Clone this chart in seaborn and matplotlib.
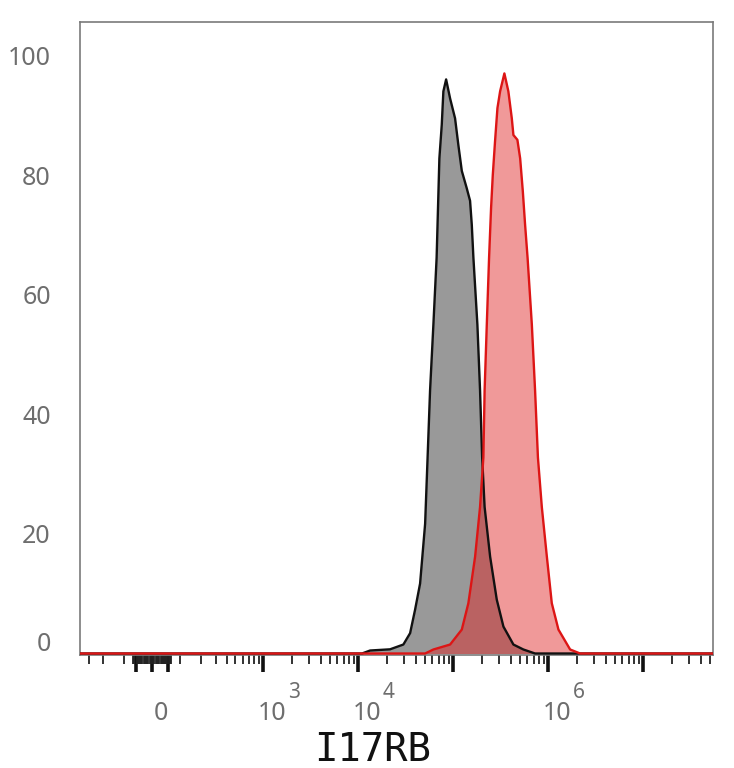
import numpy as np
import pandas as pd
import seaborn as sns
import matplotlib
matplotlib.use("Agg")
import matplotlib.pyplot as plt
from matplotlib.transforms import ScaledTranslation

# histogram outlines: log10 intensity vs % of max
isotype_log = [4.039, 4.124, 4.334, 4.474, 4.545, 4.597, 4.650, 4.703, 4.729, 4.755,
               4.790, 4.824, 4.853, 4.878, 4.895, 4.924, 4.966, 5.018, 5.053, 5.089,
               5.141, 5.176, 5.194, 5.211, 5.253, 5.281, 5.303, 5.329, 5.387, 5.457,
               5.527, 5.632, 5.737, 5.860]
isotype_pct = [0.0, 0.5, 0.7, 1.5, 3.4, 7.3, 11.7, 21.7, 32.8, 44.0,
               55.0, 66.2, 82.8, 88.4, 94.0, 96.0, 92.8, 89.5, 85.0, 80.7,
               77.8, 75.7, 71.7, 66.2, 55.0, 44.0, 32.8, 24.5, 16.2, 9.0,
               4.5, 1.5, 0.67, 0.0]

i17rb_log = [4.703, 4.790, 4.966, 5.089, 5.158, 5.229, 5.281, 5.316, 5.329, 5.352,
             5.376, 5.397, 5.415, 5.439, 5.464, 5.492, 5.537, 5.579, 5.615, 5.632,
             5.674, 5.703, 5.731, 5.755, 5.781, 5.826, 5.860, 5.890, 5.931, 5.984,
             6.036, 6.106, 6.229, 6.334]
i17rb_pct = [0.0, 0.67, 1.5, 4.0, 8.4, 16.2, 24.5, 32.8, 44.0, 55.0,
             66.2, 74.5, 80.0, 85.7, 91.2, 94.0, 97.0, 94.0, 89.5, 86.7,
             85.9, 82.8, 77.3, 71.7, 66.2, 55.0, 44.0, 32.8, 24.5, 16.2,
             8.4, 4.0, 0.67, 0.0]

# display range of the channel
chan_lo, chan_hi = -375, 5.4e7
y_ticks = [0, 20, 40, 60, 80, 100]
x_major = [-55, 0, 55, 1e3, 1e4, 1e5, 1e6, 1e7]
x_major_labels = ["", "0", "", "10", "10", "", "10", ""]
x_exponents = [3, 4, 6]

W = 135.0  # linear width of the biex scale


def fwd(x):
    return np.arcsinh(np.asarray(x, dtype=float) / W)


def inv(y):
    return W * np.sinh(y)


def curve(logs, pct, name):
    x = np.r_[chan_lo, 10 ** np.array(logs), chan_hi]
    y = np.r_[0.0, pct, 0.0]
    return pd.DataFrame({"intensity": x, "pct": y, "sample": name})


df = pd.concat([curve(isotype_log, isotype_pct, "Isotype"),
                curve(i17rb_log, i17rb_pct, "I17RB")], ignore_index=True)

sns.set_theme(style="white")
plt.rcParams["font.family"] = ["Noto Sans", "DejaVu Sans"]

fig = plt.figure(figsize=(7.34, 7.68), dpi=100)
ax = fig.add_axes([80 / 734, 113 / 768, 633 / 734, 633 / 768])
ax.set_xscale("function", functions=(fwd, inv))

iso = df[df["sample"] == "Isotype"]
red = df[df["sample"] == "I17RB"]
ax.fill_between(iso["intensity"], iso["pct"], color="#999999", lw=0, zorder=1)
ax.fill_between(red["intensity"], red["pct"], color="#e02626", alpha=0.47, lw=0, zorder=2)
sns.lineplot(data=df, x="intensity", y="pct", hue="sample", sort=False, estimator=None,
             palette={"Isotype": "#111111", "I17RB": "#dd1515"}, lw=1.7,
             legend=False, ax=ax, zorder=3)

ax.set_xlim(chan_lo, chan_hi)
ax.set_ylim(-0.25, 105.6)

# y axis
ax.set_yticks(y_ticks)
ax.set_yticklabels([str(v) for v in y_ticks])
ax.tick_params(axis="y", length=0, pad=21, labelsize=18, labelcolor="#6e6e6e")
lab0 = ax.get_yticklabels()[0]
lab0.set_transform(lab0.get_transform() + ScaledTranslation(0, 0.12, fig.dpi_scale_trans))

# x axis ticks
minor = [-300, -200, -100]
minor += [v for v in range(-64, 65, 4) if abs(v) not in (0, 56)]
minor += list(range(100, 1000, 100))
for k in range(3, 7):
    minor += [m * 10 ** k for m in range(2, 10)]
minor += [2e7, 3e7, 4e7, 5e7]
ax.set_xticks(x_major)
ax.set_xticklabels(x_major_labels)
ax.set_xticks(minor, minor=True)
ax.tick_params(axis="x", which="major", direction="out", length=12, width=2.6,
               color="#111111", pad=21, labelsize=18, labelcolor="#6e6e6e", bottom=True)
ax.tick_params(axis="x", which="minor", direction="out", length=6.5, width=1.3,
               color="#222222", bottom=True)
for lab in ax.get_xticklabels():
    lab.set_transform(lab.get_transform() + ScaledTranslation(0.09, 0, fig.dpi_scale_trans))

exp_tr = ax.get_xaxis_transform() + ScaledTranslation(0.245, -0.43, fig.dpi_scale_trans)
for e in x_exponents:
    ax.text(10 ** e, 0, str(e), transform=exp_tr, ha="left", va="baseline",
            fontsize=15, color="#6e6e6e")

ax.set_xlabel("I17RB", fontsize=28, family="DejaVu Sans Mono", color="#111111")
ax.xaxis.set_label_coords(0.462, -0.1675)
ax.xaxis.label.set_va("baseline")
ax.set_ylabel("")

for s in ax.spines.values():
    s.set_color("#7a7a7a")
    s.set_linewidth(1.2)

fig.savefig("out.png", dpi=100)
